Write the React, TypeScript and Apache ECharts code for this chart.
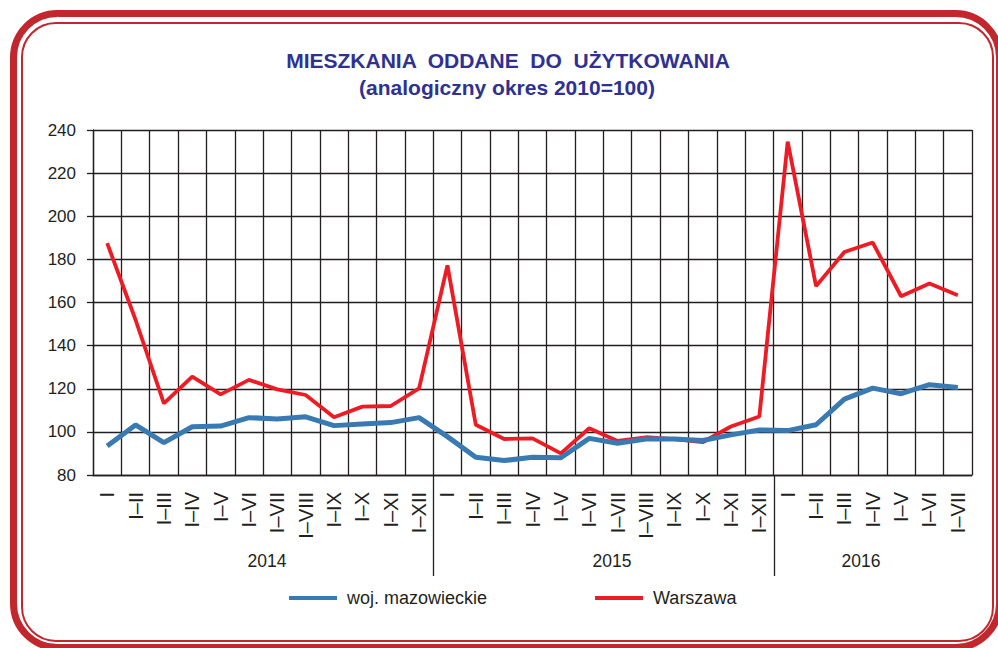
import React, { useEffect, useRef } from "react";
import * as echarts from "echarts";

const months = ["I", "I–II", "I–III", "I–IV", "I–V", "I–VI", "I–VII", "I–VIII", "I–IX", "I–X", "I–XI", "I–XII"];
const categories2014 = months.slice();
const categories2015 = months.slice();
const categories2016 = months.slice(0, 7);
const categories = [...categories2014, ...categories2015, ...categories2016];

const years = ["2014", "2015", "2016"];

const mazowieckie = [
  93.4, 103.2, 95, 102.4, 102.7, 106.6, 106, 107, 102.9, 103.7, 104.3, 106.6,
  97.8, 88.2, 86.7, 88.2, 88, 97, 94.7, 96.7, 96.7, 96, 98.6, 100.9,
  100.6, 103.3, 115.2, 120.3, 117.7, 121.9, 120.6,
];
const warszawa = [
  187.5, 152, 113.2, 125.6, 117.4, 124.1, 119.7, 117.1, 106.8, 111.7, 112, 120.2,
  177.2, 103.3, 96.7, 97, 90, 101.7, 95.8, 97.5, 96.6, 95.2, 102.5, 107.1,
  234.6, 167.6, 183.4, 187.8, 162.9, 168.8, 163.4,
];

const yTicks = { min: 80, max: 240, interval: 20 };

const FONT = "'Liberation Sans', Arial, sans-serif";
const INK = "#231f20";
const TITLE_COLOR = "#2e3192";
const FRAME = "#c1272d";

export default function App() {
  const ref = useRef<HTMLDivElement>(null);

  useEffect(() => {
    if (!ref.current) return;
    const chart = echarts.init(ref.current, null, { renderer: "svg" });
    const gridTop = 130;
    const gridBottomY = 475;
    chart.setOption({
      animation: false,
      backgroundColor: "#ffffff",
      textStyle: { fontFamily: FONT },
      grid: { left: 93, right: 26, top: gridTop, bottom: 648 - gridBottomY, containLabel: false },
      legend: {
        data: ["woj. mazowieckie", "Warszawa"],
        left: 289,
        top: 589,
        padding: 0,
        icon: "rect",
        itemWidth: 48,
        itemHeight: 4,
        itemGap: 108,
        textStyle: { fontSize: 18, color: INK, fontFamily: FONT, padding: [0, 0, 0, 5] },
      },
      xAxis: {
        type: "category",
        data: categories,
        boundaryGap: true,
        axisLine: { show: true, lineStyle: { color: INK, width: 1.3 } },
        axisTick: { show: false },
        axisLabel: {
          interval: 0,
          rotate: 90,
          margin: 17,
          fontSize: 20,
          color: INK,
          fontFamily: FONT,
        },
        splitLine: { show: true, interval: 0, lineStyle: { color: INK, width: 1.3 } },
      },
      yAxis: {
        type: "value",
        min: yTicks.min,
        max: yTicks.max,
        interval: yTicks.interval,
        axisLine: { show: true, lineStyle: { color: INK, width: 1.3 } },
        axisTick: { show: true, length: 6, lineStyle: { color: INK, width: 1.3 } },
        axisLabel: { fontSize: 17, color: INK, margin: 17, fontFamily: FONT },
        splitLine: { show: true, lineStyle: { color: INK, width: 1.3 } },
      },
      series: [
        {
          name: "Warszawa",
          type: "line",
          data: warszawa,
          symbol: "none",
          z: 2,
          lineStyle: { color: "#ed1c24", width: 3.8 },
          itemStyle: { color: "#ed1c24" },
        },
        {
          name: "woj. mazowieckie",
          type: "line",
          data: mazowieckie,
          symbol: "none",
          z: 3,
          lineStyle: { color: "#3a7ab3", width: 5 },
          itemStyle: { color: "#3a7ab3" },
        },
      ],
    });

    // year separators and year labels, positioned from the axis scale
    const c0 = chart.convertToPixel({ xAxisIndex: 0 }, 0) as number;
    const c1 = chart.convertToPixel({ xAxisIndex: 0 }, 1) as number;
    const band = c1 - c0;
    const boundary = (i: number) => c0 - band / 2 + i * band;
    const groups = [categories2014.length, categories2015.length, categories2016.length];
    const seps: any[] = [];
    let acc = 0;
    const yearX = [267, 612, 861];
    groups.forEach((n, gi) => {
      if (gi > 0) {
        const x = Math.round(boundary(acc)) + 0.5;
        seps.push({
          type: "line",
          shape: { x1: x, y1: gridBottomY, x2: x, y2: 576 },
          style: { stroke: INK, lineWidth: 1.3 },
        });
      }
      seps.push({
        type: "text",
        x: yearX[gi],
        y: 561,
        style: {
          text: years[gi],
          fontSize: 17.5,
          fontFamily: FONT,
          fill: INK,
          textAlign: "center",
          textVerticalAlign: "middle",
        },
      });
      acc += n;
    });

    chart.setOption({
      graphic: [
        {
          type: "rect",
          shape: { x: 13.5, y: 13.5, width: 986, height: 634, r: 44 },
          style: { fill: "none", stroke: FRAME, lineWidth: 7 },
          silent: true,
        },
        {
          type: "rect",
          shape: { x: 22, y: 23, width: 971, height: 618, r: 34 },
          style: { fill: "none", stroke: FRAME, lineWidth: 2 },
          silent: true,
        },
        {
          type: "text",
          x: 508,
          y: 60,
          style: {
            text: "MIESZKANIA  ODDANE  DO  UŻYTKOWANIA",
            fontSize: 21,
            fontWeight: "bold",
            fontFamily: FONT,
            fill: TITLE_COLOR,
            textAlign: "center",
            textVerticalAlign: "middle",
          },
        },
        {
          type: "text",
          x: 507,
          y: 87,
          style: {
            text: "(analogiczny okres 2010=100)",
            fontSize: 21,
            fontWeight: "bold",
            fontFamily: FONT,
            fill: TITLE_COLOR,
            textAlign: "center",
            textVerticalAlign: "middle",
          },
        },
        ...seps,
      ],
    });

    return () => chart.dispose();
  }, []);

  return (
    <div
      ref={ref}
      style={{ position: "fixed", left: 0, top: 0, width: 998, height: 648, background: "#fff" }}
    />
  );
}
